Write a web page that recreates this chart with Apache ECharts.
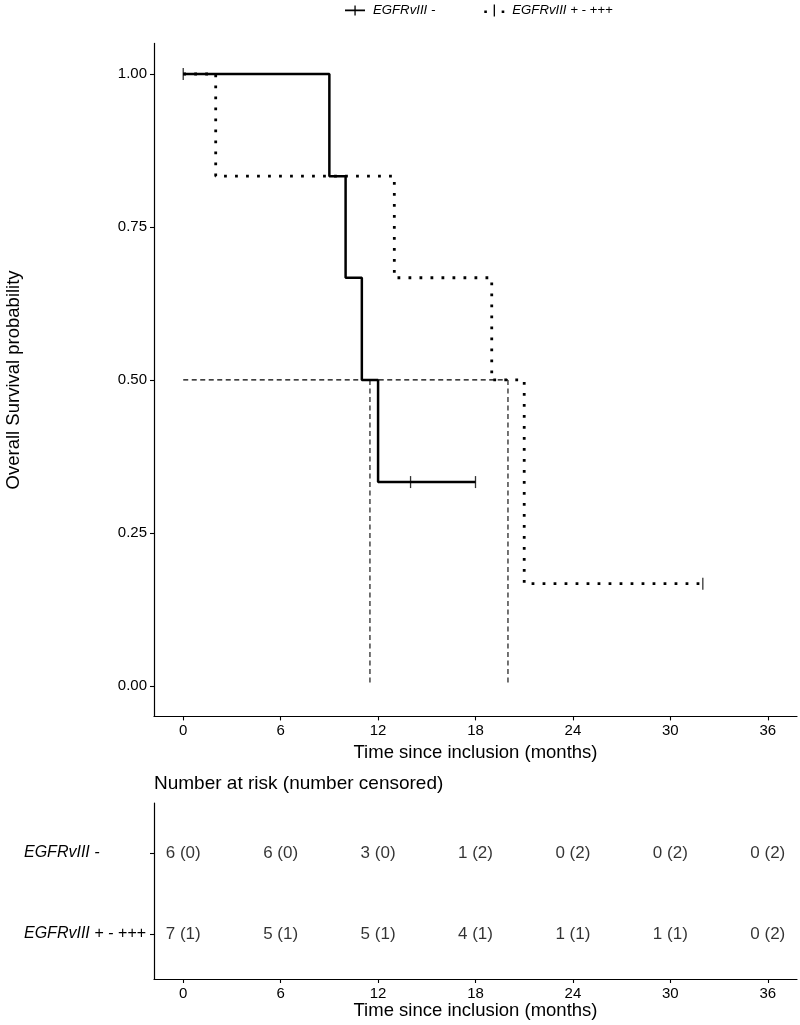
<!DOCTYPE html>
<html>
<head>
<meta charset="utf-8">
<script src="https://cdn.jsdelivr.net/npm/echarts@6/dist/echarts.min.js"></script>
<style>
html,body{margin:0;padding:0;background:#fff;}
#chart{width:800px;height:1025px;}
</style>
</head>
<body>
<div id="chart"></div>
<script>
// ---- Data ----
var groupNames = ['EGFRvIII -', 'EGFRvIII + - +++'];
// Kaplan-Meier step points [time, survival]
var survNeg = [[0, 1], [9, 0.833], [10, 0.667], [11, 0.5], [12, 0.333], [18, 0.333]];
var survPos = [[0, 1], [2, 0.833], [13, 0.667], [19, 0.5], [21, 0.167], [32, 0.167]];
// censored observations [time, survival]
var censNegPts = [[14, 0.333], [18, 0.333]];
var censPosPts = [[0, 1], [32, 0.167]];
// median survival times
var medians = [11.5, 20];
// axis ticks
var timeTicks = [0, 6, 12, 18, 24, 30, 36];
var survTicks = [0, 0.25, 0.5, 0.75, 1];
// risk table
var riskTimes = [0, 6, 12, 18, 24, 30, 36];
var atRiskNeg = [6, 6, 3, 1, 0, 0, 0];
var censoredNeg = [0, 0, 0, 2, 2, 2, 2];
var atRiskPos = [7, 5, 5, 4, 1, 1, 0];
var censoredPos = [1, 1, 1, 1, 1, 1, 2];

// ---- Chart ----
var FONT = "'Liberation Sans', Arial, Helvetica, sans-serif";
var chart = echarts.init(document.getElementById('chart'), null, {renderer: 'canvas'});

var maxMed = Math.max.apply(null, medians);
var medianSeries = [{
  type: 'line', xAxisIndex: 0, yAxisIndex: 0, name: 'medH', silent: true,
  symbol: 'none', data: [[0, 0.5], [maxMed, 0.5]],
  lineStyle: {color: '#000', width: 1.1, type: [5, 3.5]}, z: 1
}];
medians.forEach(function (m, i) {
  medianSeries.push({
    type: 'line', xAxisIndex: 0, yAxisIndex: 0, name: 'medV' + i, silent: true,
    symbol: 'none', data: [[m, 0.5], [m, 0]],
    lineStyle: {color: '#000', width: 1.1, type: [5, 3.5]}, z: 1
  });
});

function riskData(times, risk, cens, row) {
  return times.map(function (t, i) { return [t, row, risk[i] + ' (' + cens[i] + ')']; });
}

function riskSeries(data) {
  return {
    type: 'scatter', xAxisIndex: 1, yAxisIndex: 1, silent: true,
    symbolSize: 1, itemStyle: {color: 'rgba(0,0,0,0)'},
    data: data,
    label: {show: true, position: 'inside', formatter: function (p) { return p.data[2]; },
      color: '#000', textBorderWidth: 0, fontSize: 17, fontFamily: FONT}
  };
}

var option = {
  animation: false,
  backgroundColor: '#fff',
  textStyle: {fontFamily: FONT, color: '#000'},
  title: {
    text: 'Number at risk (number censored)', left: 154, top: 774, padding: 0,
    textStyle: {fontSize: 19, fontWeight: 'normal', color: '#000', fontFamily: FONT}
  },
  legend: {
    left: 345, top: 4, padding: 0, itemWidth: 20, itemHeight: 12, itemGap: 49,
    textStyle: {fontSize: 13.2, fontStyle: 'italic', color: '#000', fontFamily: FONT, padding: [0, 0, 0, 3]},
    data: [
      {name: groupNames[0], icon: 'path://M0,5h20v1.8h-20z M9.4,1h1.3v10h-1.3z'},
      {name: groupNames[1], icon: 'path://M0,6h2.6v2.6h-2.6z M9.4,0h1.3v12h-1.3z M17.4,6h2.6v2.6h-2.6z'}
    ]
  },
  grid: [
    {left: 154, right: 3, top: 43.4, height: 673, outerBoundsMode: 'none', containLabel: false},
    {left: 154, right: 3, top: 803, height: 176, outerBoundsMode: 'none', containLabel: false}
  ],
  xAxis: [{
    type: 'value', gridIndex: 0, min: -1.8, max: 37.8,
    name: 'Time since inclusion (months)', nameLocation: 'middle', nameGap: 22,
    nameTextStyle: {fontSize: 18.5, color: '#000', fontFamily: FONT},
    axisLine: {onZero: false, lineStyle: {color: '#000', width: 1.2}},
    axisTick: {show: true, length: 4, lineStyle: {color: '#000', width: 1.1}, customValues: timeTicks},
    axisLabel: {customValues: timeTicks, color: '#000', fontSize: 15, margin: 7, fontFamily: FONT},
    splitLine: {show: false}
  }, {
    type: 'value', gridIndex: 1, min: -1.8, max: 37.8,
    name: 'Time since inclusion (months)', nameLocation: 'middle', nameGap: 22,
    nameTextStyle: {fontSize: 18.5, color: '#000', fontFamily: FONT},
    axisLine: {onZero: false, lineStyle: {color: '#000', width: 1.2}},
    axisTick: {show: true, length: 4, lineStyle: {color: '#000', width: 1.1}, customValues: timeTicks},
    axisLabel: {customValues: timeTicks, color: '#000', fontSize: 15, margin: 7, fontFamily: FONT},
    splitLine: {show: false}
  }],
  yAxis: [{
    type: 'value', gridIndex: 0, min: -0.05, max: 1.05,
    name: 'Overall Survival probability', nameLocation: 'middle', nameGap: 131, nameRotate: 90,
    nameTextStyle: {fontSize: 18.5, color: '#000', fontFamily: FONT},
    axisLine: {onZero: false, lineStyle: {color: '#000', width: 1.2}},
    axisTick: {show: true, length: 4, lineStyle: {color: '#000', width: 1.1}, customValues: survTicks},
    axisLabel: {customValues: survTicks, color: '#000', fontSize: 15, margin: 7, fontFamily: FONT,
      formatter: function (v) { return v.toFixed(2); }},
    splitLine: {show: false}
  }, {
    type: 'value', gridIndex: 1, min: 0.444, max: 2.617,
    axisLine: {onZero: false, lineStyle: {color: '#000', width: 1.2}},
    axisTick: {show: true, length: 4, lineStyle: {color: '#000', width: 1.1}, customValues: [1, 2]},
    axisLabel: {customValues: [1, 2], color: '#000', fontSize: 16, margin: 130, align: 'left',
      fontStyle: 'italic', fontFamily: FONT,
      formatter: function (v) { return v === 2 ? groupNames[0] : groupNames[1]; }},
    splitLine: {show: false}
  }],
  series: medianSeries.concat([
    {
      type: 'line', name: groupNames[0], xAxisIndex: 0, yAxisIndex: 0, step: 'end',
      symbol: 'none', data: survNeg, color: '#000',
      lineStyle: {color: '#000', width: 2.5, type: 'solid'}, z: 3
    },
    {
      type: 'line', name: groupNames[1], xAxisIndex: 0, yAxisIndex: 0, step: 'end',
      symbol: 'none', data: survPos, color: '#000',
      lineStyle: {color: '#000', width: 2.8, type: [2.8, 8.2], cap: 'butt'}, z: 3
    },
    {
      type: 'scatter', name: 'censNeg', xAxisIndex: 0, yAxisIndex: 0, silent: true,
      symbol: 'rect', symbolSize: [1.3, 12], itemStyle: {color: '#000'}, data: censNegPts, z: 4
    },
    {
      type: 'scatter', name: 'censPos', xAxisIndex: 0, yAxisIndex: 0, silent: true,
      symbol: 'rect', symbolSize: [1.3, 12], itemStyle: {color: '#000'}, data: censPosPts, z: 4
    },
    riskSeries(riskData(riskTimes, atRiskNeg, censoredNeg, 2)),
    riskSeries(riskData(riskTimes, atRiskPos, censoredPos, 1))
  ])
};
chart.setOption(option);
</script>
</body>
</html>
